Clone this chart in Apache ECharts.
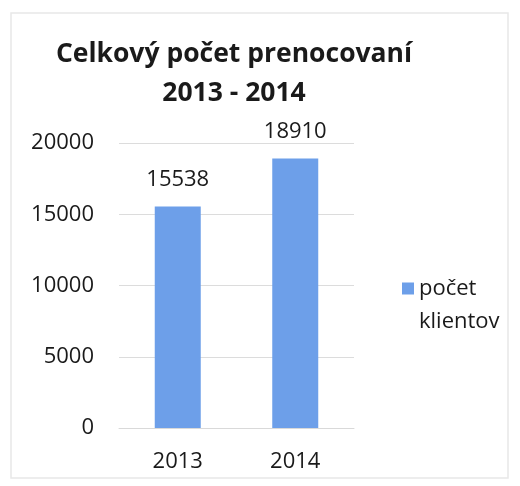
<!DOCTYPE html>
<html><head><meta charset="utf-8">
<script src="https://cdn.jsdelivr.net/npm/echarts@6/dist/echarts.min.js"></script>
<style>html,body{margin:0;padding:0;background:#fff}#c{width:520px;height:486px}</style>
</head><body><div id="c"></div>
<script>
const categories = ['2013', '2014'];
const seriesName = 'počet klientov';
const values = [15538, 18910];
const titleLines = ['Celkový počet prenocovaní', '2013 - 2014'];

const FONT = '"Open Sans", sans-serif';
const chart = echarts.init(document.getElementById('c'), null, {renderer: 'canvas'});
chart.setOption({
  backgroundColor: '#fff',
  animation: false,
  graphic: [{
    type: 'rect', shape: {x: 11, y: 13, width: 497, height: 465},
    style: {fill: 'none', stroke: '#e8e8e8', lineWidth: 1.5}
  }],
  title: {
    text: titleLines.join('\n'),
    left: 229, top: 30, textAlign: 'center',
    textStyle: {fontFamily: FONT, fontWeight: 'bold', fontSize: 26.5, color: '#1a1a1a', lineHeight: 39}
  },
  legend: {
    data: [seriesName],
    left: 397, top: 234, orient: 'vertical',
    itemWidth: 12, itemHeight: 12, itemGap: 5,
    icon: 'rect',
    formatter: () => '\n' + seriesName.replace(' ', '\n'),
    textStyle: {fontFamily: FONT, fontSize: 22, color: '#1a1a1a', lineHeight: 33}
  },
  grid: {left: 119, right: 166, top: 143, bottom: 58},
  xAxis: {
    type: 'category', data: categories,
    axisLine: {lineStyle: {color: '#d9d9d9'}},
    axisTick: {show: false},
    axisLabel: {fontFamily: FONT, fontSize: 22, color: '#1a1a1a', margin: 23}
  },
  yAxis: {
    type: 'value', min: 0, max: 20000, interval: 5000,
    axisLine: {show: false}, axisTick: {show: false},
    splitLine: {lineStyle: {color: '#dcdcdc'}},
    axisLabel: {fontFamily: FONT, fontSize: 22, color: '#1a1a1a', margin: 25, formatter: v => String(v)}
  },
  series: [{
    name: seriesName, type: 'bar', data: values, barWidth: 46,
    itemStyle: {color: '#6d9fe9'},
    label: {show: true, position: 'top', distance: 16, fontFamily: FONT, fontSize: 22, color: '#1a1a1a'}
  }]
});
</script></body></html>
